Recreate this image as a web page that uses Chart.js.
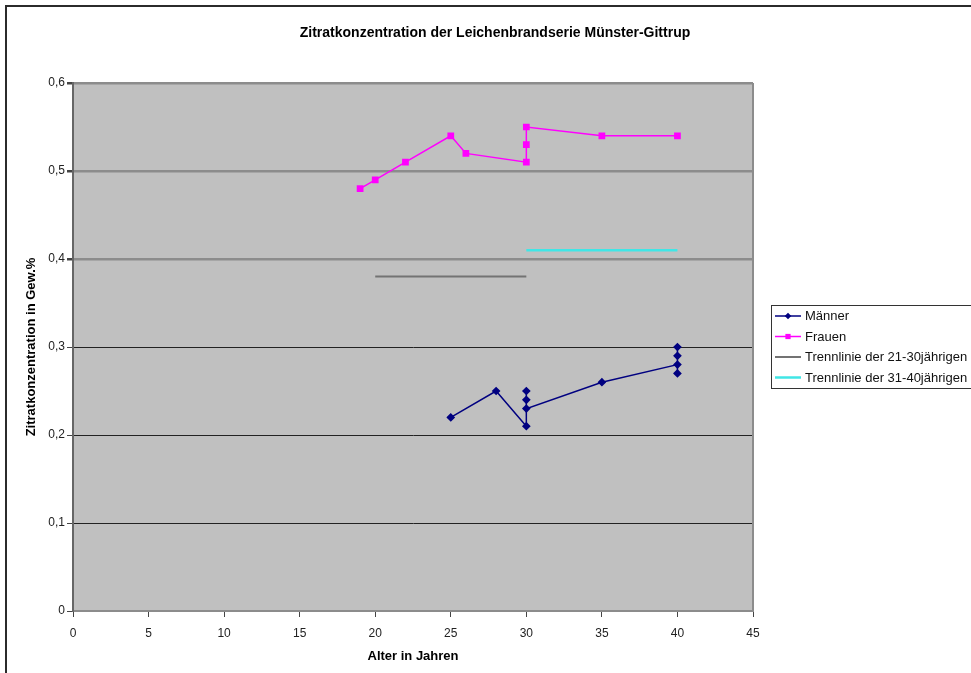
<!DOCTYPE html>
<html>
<head>
<meta charset="utf-8">
<title>Zitratkonzentration</title>
<script src="https://cdn.jsdelivr.net/npm/chart.js@4/dist/chart.umd.min.js"></script>
<style>
  html, body { margin: 0; padding: 0; background: #fff; }
  #wrap { width: 971px; height: 673px; position: relative; }
</style>
</head>
<body>
<div id="wrap"><canvas id="chart"></canvas></div>
<script>
'use strict';

// Daten
let maennerAlter = [25, 28, 30, 30, 30, 30, 35, 40, 40, 40, 40];
let maennerWert = [0.22, 0.25, 0.21, 0.25, 0.24, 0.23, 0.26, 0.28, 0.30, 0.29, 0.27];
let frauenAlter = [19, 20, 22, 25, 26, 30, 30, 30, 35, 40];
let frauenWert = [0.48, 0.49, 0.51, 0.54, 0.52, 0.51, 0.53, 0.55, 0.54, 0.54];
let trenn2130Alter = [20, 30];
let trenn2130Wert = [0.38, 0.38];
let trenn3140Alter = [30, 40];
let trenn3140Wert = [0.41, 0.41];
let xTicks = [0, 5, 10, 15, 20, 25, 30, 35, 40, 45];
let yTicks = [0, 0.1, 0.2, 0.3, 0.4, 0.5, 0.6];

let titel = 'Zitratkonzentration der Leichenbrandserie Münster-Gittrup';
let fontName = '"Liberation Sans", Arial, sans-serif';

function toPoints(xs, ys) {
    return xs.map(function(x, i) { return { x: x, y: ys[i] }; });
}

let datasets = [{
    label: 'Männer',
    data: toPoints(maennerAlter, maennerWert),
    borderColor: '#000080',
    backgroundColor: '#000080',
    borderWidth: 1.5,
    pointStyle: 'rectRot',
    pointRadius: 3.3,
    showLine: true
}, {
    label: 'Frauen',
    data: toPoints(frauenAlter, frauenWert),
    borderColor: '#ff00ff',
    backgroundColor: '#ff00ff',
    borderWidth: 1.5,
    pointStyle: 'rect',
    pointRadius: 3.7,
    showLine: true
}, {
    label: 'Trennlinie der 21-30jährigen',
    data: toPoints(trenn2130Alter, trenn2130Wert),
    borderColor: '#737373',
    borderWidth: 2,
    pointRadius: 0,
    showLine: true
}, {
    label: 'Trennlinie der 31-40jährigen',
    data: toPoints(trenn3140Alter, trenn3140Wert),
    borderColor: '#40e6e6',
    borderWidth: 2.5,
    pointRadius: 0,
    showLine: true
}];

// Hintergrund, Rahmen, Titel und Legende im Excel-Stil
let excelLook = {
    id: 'excelLook',
    beforeDraw: function(chart) {
        let ctx = chart.ctx;
        let a = chart.chartArea;
        ctx.save();
        ctx.fillStyle = '#c0c0c0';
        ctx.fillRect(a.left, a.top, a.right - a.left, a.bottom - a.top);
        ctx.restore();
    },
    afterDraw: function(chart) {
        let ctx = chart.ctx;
        let a = chart.chartArea;
        ctx.save();

        // rechter Rand der Zeichenfläche
        ctx.strokeStyle = '#8c8c8c';
        ctx.lineWidth = 2;
        ctx.beginPath();
        ctx.moveTo(a.right, a.top);
        ctx.lineTo(a.right, a.bottom);
        ctx.stroke();

        // äußerer Diagrammrahmen
        ctx.strokeStyle = '#2b2b2b';
        ctx.lineWidth = 2;
        ctx.beginPath();
        ctx.moveTo(6, 700);
        ctx.lineTo(6, 6);
        ctx.lineTo(1000, 6);
        ctx.stroke();

        // Titel
        ctx.fillStyle = '#000';
        ctx.font = 'bold 14px ' + fontName;
        ctx.textAlign = 'center';
        ctx.textBaseline = 'middle';
        ctx.fillText(titel, 495, 33);

        // Legende
        ctx.fillStyle = '#fff';
        ctx.fillRect(771, 305, 230, 83);
        ctx.strokeStyle = '#333';
        ctx.lineWidth = 1;
        ctx.strokeRect(771.5, 305.5, 230, 83);
        ctx.font = '13px ' + fontName;
        ctx.textAlign = 'left';
        chart.data.datasets.forEach(function(ds, i) {
            let y = 316 + i * 20.5;
            ctx.strokeStyle = ds.borderColor;
            ctx.lineWidth = ds.borderWidth;
            ctx.beginPath();
            ctx.moveTo(775, y);
            ctx.lineTo(801, y);
            ctx.stroke();
            if (ds.pointRadius > 0) {
                ctx.fillStyle = ds.backgroundColor;
                Chart.helpers.drawPoint(ctx, {
                    pointStyle: ds.pointStyle,
                    radius: ds.pointRadius,
                    borderWidth: 0
                }, 788, y);
            }
            ctx.fillStyle = '#111';
            ctx.fillText(ds.label, 805, y + 0.5);
        });
        ctx.restore();
    }
};

let config = {
    type: 'scatter',
    data: { datasets: datasets },
    plugins: [excelLook],
    options: {
        responsive: true,
        maintainAspectRatio: false,
        animation: false,
        layout: {
            padding: { top: 83, right: 218, left: 0, bottom: 0 }
        },
        plugins: {
            legend: { display: false },
            title: { display: false },
            tooltip: { enabled: false }
        },
        scales: {
            x: {
                type: 'linear',
                min: 0,
                max: 45,
                afterFit: function(scale) { scale.height = 62; },
                afterBuildTicks: function(scale) {
                    scale.ticks = xTicks.map(function(v) { return { value: v }; });
                },
                ticks: {
                    color: '#222',
                    padding: 9,
                    maxRotation: 0,
                    font: { family: fontName, size: 12 },
                    callback: function(v) { return String(v); }
                },
                grid: {
                    drawOnChartArea: false,
                    tickLength: 6,
                    tickColor: '#444'
                },
                border: { color: '#8c8c8c', width: 2 },
                title: {
                    display: true,
                    text: 'Alter in Jahren',
                    color: '#000',
                    font: { family: fontName, size: 13, weight: 'bold' },
                    padding: { top: 0, bottom: 9 }
                }
            },
            y: {
                type: 'linear',
                min: 0,
                max: 0.6,
                afterFit: function(scale) { scale.width = 73; },
                afterBuildTicks: function(scale) {
                    scale.ticks = yTicks.map(function(v) { return { value: v }; });
                },
                ticks: {
                    color: '#222',
                    padding: 2,
                    font: { family: fontName, size: 12 },
                    callback: function(v) {
                        return v === 0 ? '0' : v.toFixed(1).replace('.', ',');
                    }
                },
                grid: {
                    tickLength: 6,
                    tickColor: '#444',
                    color: function(c) {
                        let v = c.tick ? Math.round(c.tick.value * 10) : 0;
                        if (v === 4 || v === 5 || v === 6) return '#8c8c8c';
                        if (v === 0) return 'rgba(0,0,0,0)';
                        return '#222';
                    },
                    lineWidth: function(c) {
                        let v = c.tick ? Math.round(c.tick.value * 10) : 0;
                        return (v === 4 || v === 5 || v === 6) ? 2.5 : 1;
                    }
                },
                border: { color: '#666', width: 2 },
                title: {
                    display: true,
                    text: 'Zitratkonzentration in Gew.%',
                    color: '#000',
                    font: { family: fontName, size: 13, weight: 'bold' },
                    padding: { top: 24, bottom: 0 }
                }
            }
        }
    }
};

window.onload = function() {
    let ctx = document.getElementById('chart').getContext('2d');
    window.myChart = new Chart(ctx, config);
};
</script>
</body>
</html>
